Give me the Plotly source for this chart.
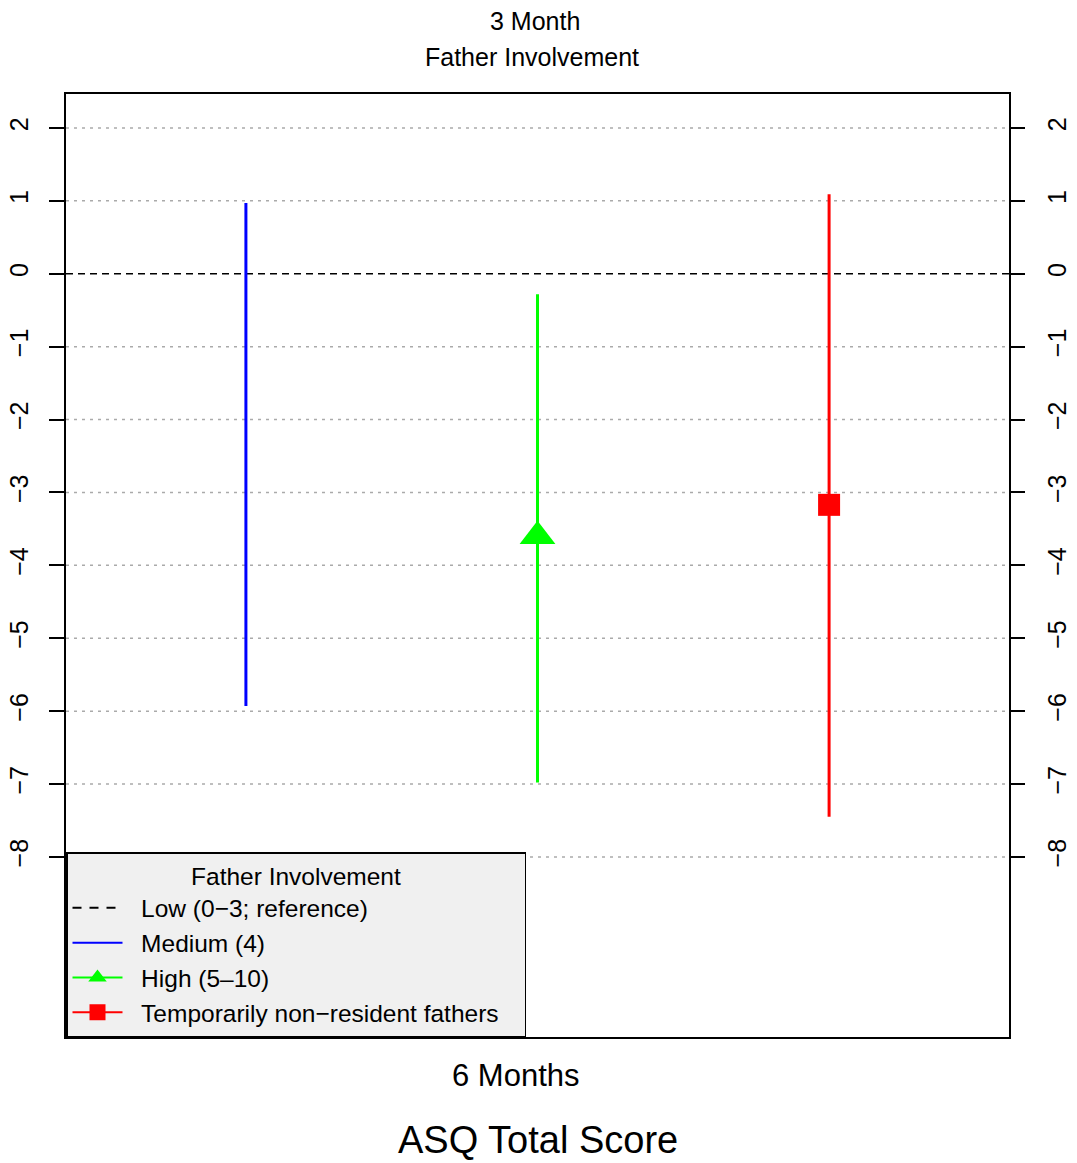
import plotly.graph_objects as go

# Data
groups = ["Medium (4)", "High (5–10)", "Temporarily non−resident fathers"]
xpos = [1, 2, 3]
estimates = [None, -3.6, -3.17]
lower = [-5.93, -6.98, -7.45]
upper = [0.97, -0.28, 1.09]
colors = ["#0000FF", "#00FF00", "#FF0000"]
symbols = [None, "triangle-up", "square"]
reference_label = "Low (0−3; reference)"
reference_value = 0
yticks = [-8, -7, -6, -5, -4, -3, -2, -1, 0, 1, 2]

FONT = "Liberation Sans, Arial, Helvetica, sans-serif"
PAD = "\u00a0\u00a0"
TAIL = "\u00a0\u00a0\u00a0"

fig = go.Figure()

# legend entry for reference
fig.add_trace(go.Scatter(x=[None], y=[None], mode="lines", name=PAD + reference_label + TAIL,
                         line=dict(color="black", dash="9px,8px", width=2)))

for i, g in enumerate(groups):
    fig.add_trace(go.Scatter(x=[xpos[i], xpos[i]], y=[lower[i], upper[i]], mode="lines",
                             line=dict(color=colors[i], width=3), showlegend=False,
                             hoverinfo="skip"))
    if estimates[i] is not None:
        sz = 31 if symbols[i] == "triangle-up" else 22
        fig.add_trace(go.Scatter(x=[xpos[i]], y=[estimates[i]], mode="markers",
                                 marker=dict(color=colors[i], symbol=symbols[i], size=sz,
                                             line=dict(width=0)),
                                 showlegend=False))
        fig.add_trace(go.Scatter(x=[None], y=[None], mode="lines+markers", name=PAD + g + TAIL,
                                 line=dict(color=colors[i], width=2),
                                 marker=dict(color=colors[i], symbol=symbols[i], size=sz - 4)))
    else:
        fig.add_trace(go.Scatter(x=[None], y=[None], mode="lines", name=PAD + g + TAIL,
                                 line=dict(color=colors[i], width=2)))

# invisible trace for right axis
fig.add_trace(go.Scatter(x=[xpos[0]], y=[yticks[0]], yaxis="y2", mode="markers",
                         marker=dict(opacity=0), showlegend=False, hoverinfo="skip"))

# grid lines (except at reference value)
for t in yticks:
    if t == reference_value:
        continue
    fig.add_shape(type="line", xref="paper", x0=0, x1=1, yref="y", y0=t, y1=t,
                  line=dict(color="#aaaaaa", dash="3px,5px", width=1.5), layer="below")

# reference line
fig.add_shape(type="line", xref="paper", x0=0, x1=1, yref="y", y0=reference_value,
              y1=reference_value, line=dict(color="black", dash="7px,5px", width=1.5),
              layer="below")

yr = [-10.47, 2.466]
axis_common = dict(range=yr, tickvals=yticks, ticks="outside", ticklen=15, tickwidth=1.5,
                   tickcolor="black", tickangle=-90, automargin=False, showgrid=False,
                   zeroline=False, ticklabelstandoff=11,
                   tickfont=dict(size=25, color="black", family=FONT))

fig.update_layout(
    width=1077, height=1163,
    margin=dict(l=66, r=68, t=94, b=126),
    paper_bgcolor="white", plot_bgcolor="white",
    font=dict(family=FONT, color="black"),
    xaxis=dict(range=[0.383, 3.617], showticklabels=False, ticks="", showgrid=False,
               zeroline=False, showline=True, linecolor="black", linewidth=1.5, mirror=True,
               automargin=False),
    yaxis=dict(**axis_common, showline=True, linecolor="black", linewidth=1.5, mirror=True),
    yaxis2=dict(**axis_common, overlaying="y", side="right", showline=False),
    legend=dict(x=0, y=0, xanchor="left", yanchor="bottom", bgcolor="#f0f0f0",
                bordercolor="black", borderwidth=1.5,
                font=dict(size=24.5, color="black", family=FONT),
                title=dict(text="Father Involvement", side="top center",
                           font=dict(size=24.5, color="black", family=FONT)),
                itemwidth=50, tracegroupgap=0),
    showlegend=True,
)

fig.add_annotation(text="3 Month", xref="paper", yref="paper", x=0.497, y=1,
                   yanchor="middle", yshift=73, showarrow=False, font=dict(size=25))
fig.add_annotation(text="Father Involvement", xref="paper", yref="paper", x=0.494, y=1,
                   yanchor="middle", yshift=37, showarrow=False, font=dict(size=25))
fig.add_annotation(text="6 Months", xref="paper", yref="paper", x=0.477, y=0,
                   yanchor="middle", yshift=-38, showarrow=False, font=dict(size=31))
fig.add_annotation(text="ASQ Total Score", xref="paper", yref="paper", x=0.5, y=0,
                   yanchor="middle", yshift=-103, showarrow=False, font=dict(size=38))

fig.write_html("out.html", config={"displayModeBar": False},
               post_script="document.body.style.margin='0px';")
